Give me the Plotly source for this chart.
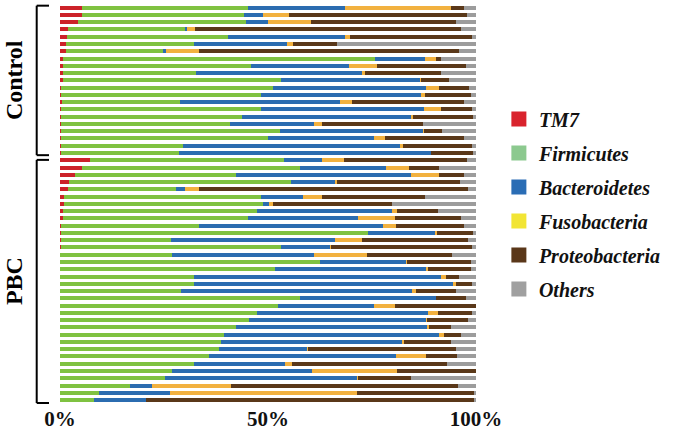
import plotly.graph_objects as go

# ---------------- data (relative abundance, %) ----------------
samples = [f"C{i}" for i in range(1, 22)] + [f"P{i}" for i in range(1, 35)]

tm7 = [5.2, 5.2, 4.4, 1.9, 1.7, 1.4, 1.4, 0.8, 0.8, 0.8, 0.6, 0.3, 0.3, 0.5, 0.2, 0.2, 0.2, 0.2, 0.2, 0.2, 0.2,
       7.1, 5.2, 3.5, 2.2, 1.9, 1.0, 1.0, 0.8, 0.8, 0.3, 0.3, 0.3, 0.2, 0.1, 0.1, 0.1, 0.1, 0.1, 0.1, 0.1,
       0, 0, 0, 0, 0, 0, 0, 0, 0, 0, 0, 0, 0, 0]
firmicutes = [40.0, 39.1, 40.2, 28.2, 38.8, 30.8, 23.4, 74.9, 45.2, 32.0, 52.6, 51.0, 48.1, 28.3, 48.0, 43.5, 40.6, 52.6, 49.7, 29.3, 28.4,
              46.7, 52.5, 38.8, 53.3, 25.9, 47.4, 47.9, 46.5, 44.3, 33.0, 73.8, 26.3, 53.0, 26.8, 62.4, 51.7, 32.2, 32.0, 29.0, 57.6,
              52.4, 47.3, 45.4, 42.3, 39.4, 38.8, 38.1, 35.8, 32.2, 26.9, 25.2, 16.8, 9.3, 8.1]
bacteroidetes = [23.4, 4.4, 5.4, 0.5, 28.1, 22.3, 0.7, 12.1, 23.5, 39.7, 33.4, 36.7, 38.3, 38.6, 39.3, 40.8, 20.2, 34.5, 25.6, 52.3, 60.6,
                 9.2, 20.7, 42.0, 10.5, 2.2, 10.1, 1.3, 32.4, 26.5, 44.3, 16.1, 39.4, 11.9, 34.2, 20.8, 36.1, 59.2, 62.3, 55.5, 32.6,
                 23.1, 41.2, 42.6, 46.1, 51.6, 43.6, 21.3, 45.0, 22.0, 33.7, 46.2, 5.2, 17.2, 12.6]
fusobacteria = [25.4, 6.3, 10.3, 1.8, 1.2, 1.4, 7.9, 2.7, 6.7, 0.9, 0.2, 3.1, 1.0, 2.7, 4.1, 0.3, 1.9, 0.2, 2.6, 0.7, 0.1,
                5.3, 5.6, 6.9, 0.5, 3.4, 4.4, 1.0, 1.4, 9.0, 3.2, 0.5, 6.7, 0.1, 12.8, 0.2, 0.5, 1.3, 0.8, 0.9, 0.0,
                5.0, 2.4, 0.3, 0.2, 1.2, 0.2, 0.2, 7.2, 1.6, 20.4, 0.2, 19.2, 45.0, 0.0]
proteobacteria = [3.1, 42.8, 35.0, 64.0, 29.2, 10.8, 62.4, 1.1, 21.4, 18.2, 6.8, 7.1, 11.1, 26.9, 7.5, 14.4, 24.4, 4.3, 18.9, 16.5, 10.0,
                  29.6, 7.1, 5.9, 29.7, 64.7, 24.8, 28.7, 9.7, 15.9, 16.2, 8.5, 25.4, 33.8, 20.4, 15.4, 10.4, 3.0, 3.8, 9.6, 7.2,
                  19.5, 8.2, 9.8, 5.4, 4.1, 11.4, 35.5, 7.4, 37.2, 19.0, 12.7, 54.5, 27.9, 78.7]
others = [2.9, 2.2, 4.8, 3.7, 1.0, 33.2, 4.2, 8.5, 2.5, 8.5, 6.6, 1.9, 1.3, 3.1, 0.9, 0.9, 12.9, 8.2, 3.1, 1.1, 0.9,
          2.2, 8.9, 2.9, 3.7, 1.9, 12.3, 20.1, 9.1, 3.6, 3.1, 0.8, 2.0, 1.0, 5.7, 1.1, 1.1, 4.2, 1.0, 4.9, 2.5,
          0.0, 1.0, 1.9, 6.0, 3.6, 6.0, 4.9, 4.6, 7.0, 0.0, 15.8, 4.3, 0.6, 0.6]

phyla = ["TM7", "Firmicutes", "Bacteroidetes", "Fusobacteria", "Proteobacteria", "Others"]
values = [tm7, firmicutes, bacteroidetes, fusobacteria, proteobacteria, others]
bar_colors = ["#cc2229", "#7fc241", "#2b6cb0", "#f2b13f", "#5a3819", "#9c9c9c"]
legend_colors = ["#d9232d", "#8cc98f", "#2a6db5", "#f2e534", "#5a3719", "#a0a0a0"]

groups = ["Control", "PBC"]
group_sizes = [21, 34]

FONT = "Liberation Serif, Times New Roman, serif"

fig = go.Figure()
for name, vals, col in zip(phyla, values, bar_colors):
    fig.add_trace(go.Bar(
        y=samples, x=[v / 100 for v in vals], orientation="h", name=name,
        marker=dict(color=col, line=dict(width=0)), showlegend=False,
    ))
for name, col in zip(phyla, legend_colors):
    fig.add_trace(go.Scatter(
        x=[None], y=[None], mode="markers", name=name, legendgroup=name,
        marker=dict(symbol="square", size=15, color=col),
    ))

# group brackets and labels
shapes = []
annotations = []
start = 0
bx, tx = -0.056, -0.0264
for g, n in zip(groups, group_sizes):
    y0 = start - 0.27 if start == 0 else start - 0.05
    y1 = start + n - 1 + (0.3 if start == 0 else 0.4)
    line = dict(color="black", width=2)
    shapes.append(dict(type="line", xref="paper", yref="y", x0=bx, x1=bx, y0=y0, y1=y1, line=line))
    shapes.append(dict(type="line", xref="paper", yref="y", x0=bx, x1=tx, y0=y0, y1=y0, line=line))
    shapes.append(dict(type="line", xref="paper", yref="y", x0=bx, x1=tx, y0=y1, y1=y1, line=line))
    annotations.append(dict(
        text=f"<b>{g}</b>", xref="paper", yref="y", x=-0.109, y=(y0 + y1) / 2,
        textangle=-90, showarrow=False, font=dict(family=FONT, size=24, color="black"),
        xanchor="center", yanchor="middle",
    ))
    start += n

fig.update_layout(
    width=674, height=437,
    margin=dict(l=60, r=198, t=4, b=33),
    barmode="stack", bargap=0.45,
    plot_bgcolor="white", paper_bgcolor="white",
    shapes=shapes, annotations=annotations,
    legend=dict(
        x=1.055, xanchor="left", y=0.5, yanchor="middle",
        font=dict(family=FONT, size=20, color="#111111", weight="bold", style="italic"),
        tracegroupgap=5, bgcolor="rgba(0,0,0,0)",
    ),
    xaxis=dict(
        range=[0, 1], tickvals=[0, 0.5, 1], ticktext=["0%", "50%", "100%"],
        showgrid=False, zeroline=False, showline=False, ticks="",
        tickfont=dict(family=FONT, size=21, color="#111111", weight="bold"),
    ),
    yaxis=dict(
        autorange="reversed", showticklabels=False, showgrid=False,
        zeroline=False, showline=False, ticks="",
    ),
)

fig.write_html(
    "out.html",
    config={"displayModeBar": False},
    post_script="document.body.style.margin='0';document.body.style.overflow='hidden';",
)
